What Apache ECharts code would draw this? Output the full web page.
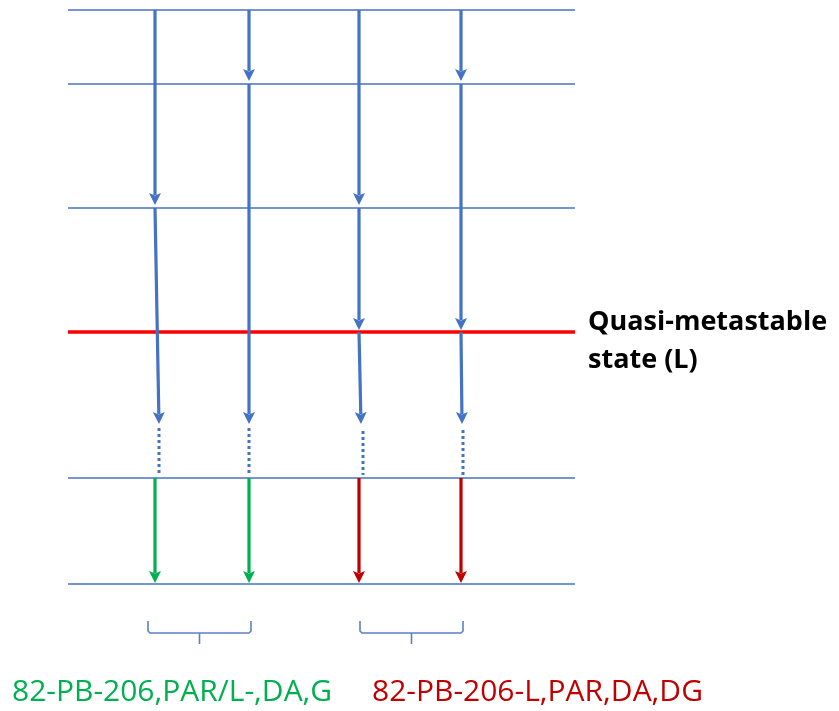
<!DOCTYPE html>
<html>
<head>
<meta charset="utf-8">
<script src="https://cdn.jsdelivr.net/npm/echarts@6/dist/echarts.min.js"></script>
<style>
html,body{margin:0;padding:0;background:#fff;}
#main{width:839px;height:711px;}
</style>
</head>
<body>
<div id="main"></div>
<script>
// Energy levels (diagram units, y grows downward)
var levels = [10, 84, 208, 332, 478, 584];
var levelKinds = ['normal', 'normal', 'normal', 'metastable', 'normal', 'normal'];
var levelSpan = [68, 575];

// Cascade transitions: [xFrom, yFrom, xTo, yTo, kind]
var blueTransitions = [
  [155, 10, 155, 205, 'blue'],
  [155, 208, 159, 424, 'blue'],
  [249, 10, 249, 81, 'blue'],
  [249, 84, 249, 424, 'blue'],
  [359, 10, 359, 205, 'blue'],
  [359, 208, 359, 330, 'blue'],
  [359, 332, 361, 424, 'blue'],
  [461, 10, 461, 81, 'blue'],
  [461, 84, 461, 330, 'blue'],
  [461, 332, 462, 424, 'blue']
];
var finalTransitions = [
  [155, 478, 155, 583, 'green'],
  [249, 478, 249, 583, 'green'],
  [359, 478, 359, 583, 'darkred'],
  [461, 478, 461, 583, 'darkred']
];
// Unobserved (dotted) links: [x, yFrom, yTo]
var dottedLinks = [
  [159, 428, 475],
  [249, 428, 475],
  [363, 431, 475],
  [463, 430, 475]
];
// Brackets grouping the final transitions: [xLeft, xRight, yTop, yBottom, yTick]
var brackets = [
  [148, 251, 621, 633, 644],
  [360, 463, 621, 633, 644]
];
var groupLabels = ['82-PB-206,PAR/L-,DA,G', '82-PB-206-L,PAR,DA,DG'];
var levelLabel = ['Quasi-metastable', 'state (L)'];

var colors = {
  blue: '#4472C4',
  green: '#00B050',
  darkred: '#C00000',
  normal: '#4472C4',
  metastable: '#FF0000'
};

var chart = echarts.init(document.getElementById('main'));

function arrowItem(params, api) {
  var p1 = api.coord([api.value(0), api.value(1)]);
  var p2 = api.coord([api.value(2), api.value(3)]);
  var kind = api.value(4);
  var col = colors[kind];
  var dx = p2[0] - p1[0], dy = p2[1] - p1[1];
  var len = Math.sqrt(dx * dx + dy * dy);
  var ux = dx / len, uy = dy / len;
  var hl = 12, hw = 6;
  var bx = p2[0] - ux * hl, by = p2[1] - uy * hl;
  var nx = -uy, ny = ux;
  return {
    type: 'group',
    children: [
      {
        type: 'line',
        shape: { x1: p1[0], y1: p1[1], x2: bx + ux * 2, y2: by + uy * 2 },
        style: { stroke: col, lineWidth: 3.2, lineCap: 'butt' }
      },
      {
        type: 'polygon',
        shape: { points: [[p2[0], p2[1]], [bx + nx * hw, by + ny * hw], [bx + ux * 2.5, by + uy * 2.5], [bx - nx * hw, by - ny * hw]] },
        style: { fill: col }
      }
    ]
  };
}

var option = {
  animation: false,
  backgroundColor: '#ffffff',
  grid: { left: 0, right: 0, top: 0, bottom: 0 },
  xAxis: { type: 'value', min: 0, max: 839, show: false },
  yAxis: { type: 'value', min: 0, max: 711, inverse: true, show: false },
  series: [
    {
      type: 'custom',
      name: 'levels',
      data: levels.map(function (y, i) { return [levelSpan[0], y, levelSpan[1], levelKinds[i]]; }),
      encode: { x: [0, 2], y: 1 },
      renderItem: function (params, api) {
        var a = api.coord([api.value(0), api.value(1)]);
        var b = api.coord([api.value(2), api.value(1)]);
        var kind = api.value(3);
        return {
          type: 'line',
          shape: { x1: a[0], y1: a[1], x2: b[0], y2: b[1] },
          style: { stroke: colors[kind], lineWidth: kind === 'metastable' ? 3.5 : 1.6 }
        };
      },
      z: 1
    },
    {
      type: 'custom',
      name: 'cascade',
      data: blueTransitions,
      encode: { x: [0, 2], y: [1, 3] },
      renderItem: arrowItem,
      z: 3
    },
    {
      type: 'custom',
      name: 'final',
      data: finalTransitions,
      encode: { x: [0, 2], y: [1, 3] },
      renderItem: arrowItem,
      z: 3
    },
    {
      type: 'custom',
      name: 'dotted',
      data: dottedLinks,
      encode: { x: 0, y: [1, 2] },
      renderItem: function (params, api) {
        var a = api.coord([api.value(0), api.value(1)]);
        var b = api.coord([api.value(0), api.value(2)]);
        return {
          type: 'line',
          shape: { x1: a[0], y1: a[1], x2: b[0], y2: b[1] },
          style: { stroke: colors.blue, lineWidth: 3, lineDash: [3, 3], lineCap: 'butt' }
        };
      },
      z: 2
    },
    {
      type: 'custom',
      name: 'brackets',
      data: brackets,
      encode: { x: [0, 1], y: [2, 3, 4] },
      renderItem: function (params, api) {
        var xl = api.value(0), xr = api.value(1), yt = api.value(2), yb = api.value(3), yk = api.value(4);
        var xm = (xl + xr) / 2;
        var p = function (x, y) { return api.coord([x, y]); };
        return {
          type: 'group',
          children: [
            {
              type: 'polyline',
              shape: { points: [p(xl, yt), p(xl, yb - 2), p(xl + 2, yb), p(xr - 2, yb), p(xr, yb - 2), p(xr, yt)] },
              style: { stroke: '#5B80C8', lineWidth: 1.6, fill: null }
            },
            {
              type: 'line',
              shape: { x1: p(xm, yb)[0], y1: p(xm, yb)[1], x2: p(xm, yk)[0], y2: p(xm, yk)[1] },
              style: { stroke: '#5B80C8', lineWidth: 1.6 }
            }
          ]
        };
      },
      z: 2
    }
  ],
  graphic: [
    {
      type: 'text', left: 588, top: 309,
      style: { text: levelLabel[0], font: 'bold 27px "Open Sans", sans-serif', fill: '#000' }
    },
    {
      type: 'text', left: 588, top: 347,
      style: { text: levelLabel[1], font: 'bold 27px "Open Sans", sans-serif', fill: '#000' }
    },
    {
      type: 'text', left: 12, top: 677,
      style: { text: groupLabels[0], font: '30px "Open Sans", sans-serif', fill: colors.green }
    },
    {
      type: 'text', left: 372, top: 677,
      style: { text: groupLabels[1], font: '30px "Open Sans", sans-serif', fill: colors.darkred }
    }
  ]
};
chart.setOption(option);
</script>
</body>
</html>
